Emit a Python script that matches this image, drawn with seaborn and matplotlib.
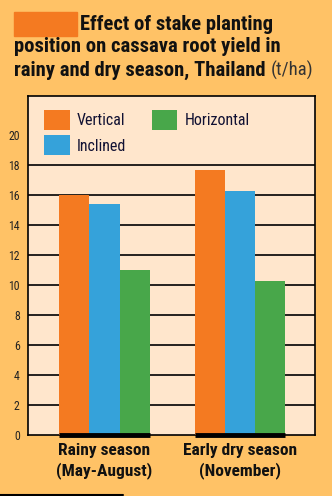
import matplotlib
matplotlib.use("Agg")
import matplotlib.pyplot as plt
import seaborn as sns
import pandas as pd
from matplotlib.patches import Rectangle
from matplotlib.lines import Line2D

seasons = ["Rainy season\n(May-August)", "Early dry season\n(November)"]
positions = ["Vertical", "Inclined", "Horizontal"]
vertical = [16.0, 17.7]
inclined = [15.4, 16.3]
horizontal = [11.0, 10.3]
yticks = [0, 2, 4, 6, 8, 10, 12, 14, 16, 18, 20]

colors = {"Vertical": "#F47A21", "Inclined": "#35A2DA", "Horizontal": "#48A74A"}
fig_bg = "#FFC266"
ax_bg = "#FFE6CC"

rows = []
for s, v, i, h in zip(seasons, vertical, inclined, horizontal):
    rows += [(s, "Vertical", v), (s, "Inclined", i), (s, "Horizontal", h)]
df = pd.DataFrame(rows, columns=["season", "position", "yield"])

sns.set_style("white")
plt.rcParams["font.family"] = ["Roboto Condensed", "Open Sans Condensed", "Roboto"]

fig = plt.figure(figsize=(3.32, 4.96), dpi=100, facecolor=fig_bg)
W, H = 332, 496
ax = fig.add_axes([28 / W, (H - 435) / H, 287 / W, (435 - 96) / H])
ax.set_facecolor(ax_bg)

sns.barplot(data=df, x="season", y="yield", hue="position", hue_order=positions,
            palette=colors, width=0.67, saturation=1, dodge=True, ax=ax,
            legend=False, zorder=3, linewidth=0, edgecolor="none")

ax.set_xlim(-0.565, 1.553)
ax.set_ylim(0, 22.6)
ax.set_yticks(yticks)
ax.set_yticklabels([str(t) for t in yticks], fontsize=8.5, color="#222222")
ax.tick_params(axis="y", length=0, pad=6)
ax.tick_params(axis="x", length=0, pad=6)
ax.set_xticks([0, 1])
ax.set_xticklabels(seasons, fontsize=12.5, fontweight="bold", linespacing=1.3,
                   color="#111111")
ax.set_xlabel("")
ax.set_ylabel("")
for t in yticks[1:-1]:
    ax.axhline(t, color="black", lw=1.2, zorder=1)
for sp in ax.spines.values():
    sp.set_color("black")
    sp.set_linewidth(1.2)
    sp.set_visible(True)

# thick baseline under each group
for gi in range(len(seasons)):
    xs = []
    for p in ax.patches:
        cx = p.get_x() + p.get_width() / 2
        if abs(cx - gi) < 0.5:
            xs += [p.get_x(), p.get_x() + p.get_width()]
    if xs:
        ax.plot([min(xs), max(xs)], [0, 0], color="black", lw=3.5,
                solid_capstyle="butt", zorder=4, clip_on=False)

handles = [Rectangle((0, 0), 1, 1, color=colors[p], lw=0) for p in positions]
leg = ax.legend(handles, positions, ncol=2, frameon=False, loc="upper left",
                bbox_to_anchor=(0.056, 0.959), fontsize=11.5, borderpad=0,
                handlelength=1.6, handleheight=1.55, handletextpad=0.45,
                columnspacing=1.6, labelspacing=0.35, borderaxespad=0)
for t in leg.get_texts():
    t.set_color("#111133")

# title
fig.patches.append(Rectangle((14 / W, 1 - 36 / H), 63 / W, 24 / H,
                             transform=fig.transFigure, color="#F47A21"))
kw = dict(fontsize=14.9, fontweight="bold", va="center", ha="left", color="#111111")
fig.text(80 / W, 1 - 24 / H, "Effect of stake planting", **kw)
fig.text(14 / W, 1 - 47 / H, "position on cassava root yield in", **kw)
t1 = fig.text(14 / W, 1 - 70 / H, "rainy and dry season, Thailand ", **kw)
fig.canvas.draw()
bb = t1.get_window_extent()
fig.text(bb.x1 / W, 1 - 70 / H, "(t/ha)", fontsize=13.5, va="center", ha="left",
         color="#333333")

fig.add_artist(Line2D([0, 123 / W], [1.5 / H, 1.5 / H], color="black", lw=1.5,
                      transform=fig.transFigure))

fig.savefig("out.png", dpi=100, facecolor=fig_bg)
